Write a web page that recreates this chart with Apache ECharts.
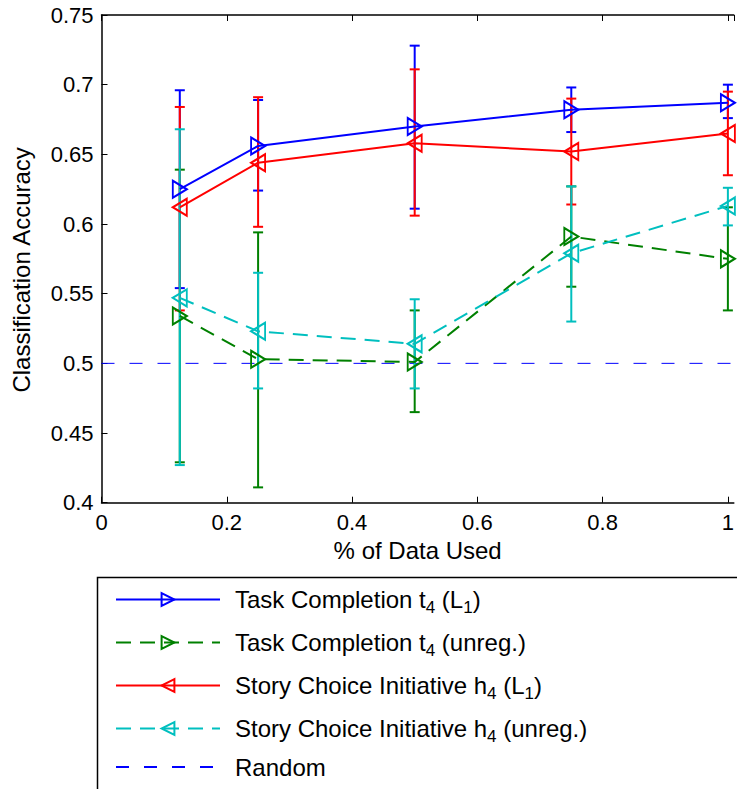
<!DOCTYPE html>
<html>
<head>
<meta charset="utf-8">
<script src="https://cdn.jsdelivr.net/npm/echarts@6/dist/echarts.min.js"></script>
<style>
html,body{margin:0;padding:0;background:#fff;}
#chart{width:737px;height:789px;}
</style>
</head>
<body>
<div id="chart"></div>
<script>
// ---- data ----
const xValues = [0.125, 0.25, 0.5, 0.75, 1];

const taskL1Mean = [0.625, 0.656, 0.670, 0.682, 0.687];
const taskL1Low  = [0.554, 0.624, 0.611, 0.666, 0.676];
const taskL1High = [0.696, 0.689, 0.728, 0.698, 0.700];

const taskUnregMean = [0.534, 0.503, 0.501, 0.591, 0.575];
const taskUnregLow  = [0.429, 0.411, 0.465, 0.555, 0.538];
const taskUnregHigh = [0.639, 0.594, 0.538, 0.627, 0.612];

const storyL1Mean = [0.612, 0.644, 0.658, 0.652, 0.665];
const storyL1Low  = [0.538, 0.598, 0.606, 0.614, 0.635];
const storyL1High = [0.684, 0.691, 0.711, 0.690, 0.695];

const storyUnregMean = [0.547, 0.523, 0.514, 0.579, 0.613];
const storyUnregLow  = [0.427, 0.482, 0.482, 0.530, 0.599];
const storyUnregHigh = [0.668, 0.565, 0.546, 0.627, 0.626];

const randomX = [0, 1.05];
const randomY = [0.5, 0.5];

const xTicks = [0, 0.2, 0.4, 0.6, 0.8, 1];
const yTicks = [0.4, 0.45, 0.5, 0.55, 0.6, 0.65, 0.7, 0.75];

const seriesNames = [
  'Task Completion t4 (L1)',
  'Task Completion t4 (unreg.)',
  'Story Choice Initiative h4 (L1)',
  'Story Choice Initiative h4 (unreg.)',
  'Random'
];
const legendRich = {
  'Task Completion t4 (L1)': '{f|Task Completion t}{s|4}{a| (L}{s|1}{a|)}',
  'Task Completion t4 (unreg.)': '{f|Task Completion t}{s|4}{a| (unreg.)}',
  'Story Choice Initiative h4 (L1)': '{f|Story Choice Initiative h}{s|4}{a| (L}{s|1}{a|)}',
  'Story Choice Initiative h4 (unreg.)': '{f|Story Choice Initiative h}{s|4}{a| (unreg.)}',
  'Random': '{f|Random}'
};

// ---- styling ----
const FONT = 'Liberation Sans, Arial, Helvetica, sans-serif';
const RIGHT_TRI = 'path://M0,0L10,6L0,12Z';
const LEFT_TRI = 'path://M10,0L0,6L10,12Z';
// visible x range: the plot box runs past the right edge of the window
const X_MAX = 1.0095;

function zip(xs, ys) { return xs.map((x, i) => [x, ys[i]]); }
function zip3(xs, a, b) { return xs.map((x, i) => [x, a[i], b[i]]); }

function errSeries(name, color, lows, highs) {
  return {
    type: 'custom',
    name: name + ' err',
    data: zip3(xValues, lows, highs),
    encode: { x: 0, y: [1, 2] },
    silent: true,
    clip: false,
    renderItem: function (params, api) {
      const x = api.value(0);
      const lo = api.coord([x, api.value(1)]);
      const hi = api.coord([x, api.value(2)]);
      const hw = 5;
      const st = { stroke: color, lineWidth: 2, fill: null };
      return {
        type: 'group',
        children: [
          { type: 'line', shape: { x1: lo[0], y1: lo[1], x2: hi[0], y2: hi[1] }, style: st },
          { type: 'line', shape: { x1: lo[0] - hw, y1: lo[1], x2: lo[0] + hw, y2: lo[1] }, style: st },
          { type: 'line', shape: { x1: hi[0] - hw, y1: hi[1], x2: hi[0] + hw, y2: hi[1] }, style: st }
        ]
      };
    },
    z: 2
  };
}

function lineSeries(name, color, means, symbol, dashed) {
  return {
    type: 'line',
    name: name,
    data: zip(xValues, means),
    symbol: symbol,
    symbolSize: [14, 17],
    showSymbol: true,
    clip: false,
    itemStyle: { color: 'rgba(255,255,255,0)', borderColor: color, borderWidth: 2 },
    lineStyle: { color: color, width: 2, type: dashed ? [15, 9] : 'solid' },
    emphasis: { disabled: true },
    animation: false,
    z: 2
  };
}

const chart = echarts.init(document.getElementById('chart'), null, { renderer: 'svg' });

const axisCommon = {
  axisLine: { show: true, lineStyle: { color: '#000', width: 1.5 } },
  axisTick: { show: true, inside: true, length: 6, lineStyle: { color: '#000', width: 1 } },
  splitLine: { show: false }
};

const option = {
  backgroundColor: '#fff',
  animation: false,
  grid: { left: 101.5, top: 15, right: 0, bottom: 286.3, containLabel: false },
  xAxis: [
    Object.assign({}, axisCommon, {
      type: 'value',
      min: 0, max: X_MAX, interval: 0.2,
      position: 'bottom',
      name: '% of Data Used',
      nameLocation: 'middle',
      nameGap: 34,
      nameTextStyle: { fontFamily: FONT, fontSize: 24, color: '#000' },
      axisLabel: {
        margin: 9, fontFamily: FONT, fontSize: 22, color: '#000',
        showMaxLabel: false,
        formatter: function (v) { const r = Math.round(v * 100) / 100; return xTicks.indexOf(r) >= 0 && Math.abs(v - r) < 1e-6 ? String(r) : ''; }
      }
    }),
    Object.assign({}, axisCommon, {
      type: 'value',
      min: 0, max: X_MAX, interval: 0.2,
      position: 'top',
      axisLabel: { show: false }
    })
  ],
  yAxis: [
    Object.assign({}, axisCommon, {
      type: 'value',
      min: 0.4, max: 0.75, interval: 0.05,
      name: 'Classification Accuracy',
      nameLocation: 'middle',
      nameGap: 68,
      nameTextStyle: { fontFamily: FONT, fontSize: 24, color: '#000', padding: [0, 22, 0, 0] },
      axisLabel: {
        margin: 8, fontFamily: FONT, fontSize: 22, color: '#000',
        formatter: function (v) { return String(Math.round(v * 100) / 100); }
      }
    })
  ],
  legend: {
    orient: 'vertical',
    left: 115,
    top: 583,
    padding: 0,
    itemWidth: 104,
    itemHeight: 16,
    itemGap: 10,
    selectedMode: false,
    data: [
      { name: seriesNames[0] },
      { name: seriesNames[1] },
      { name: seriesNames[2] },
      { name: seriesNames[3] },
      { name: seriesNames[4], itemStyle: { opacity: 0 } }
    ],
    formatter: function (name) { return legendRich[name] || name; },
    textStyle: {
      fontFamily: FONT, fontSize: 24, color: '#000',
      rich: {
        f: { fontFamily: FONT, fontSize: 24, color: '#000', lineHeight: 26, padding: [0, 0, 0, 10] },
        a: { fontFamily: FONT, fontSize: 24, color: '#000', lineHeight: 26 },
        s: { fontFamily: FONT, fontSize: 17, color: '#000', lineHeight: 26, padding: [16, 0, 0, 0] }
      }
    }
  },
  graphic: [
    {
      type: 'rect',
      left: 95, top: 575,
      shape: { x: 0, y: 0, width: 800, height: 300 },
      style: { fill: 'none', stroke: '#000', lineWidth: 1.5 },
      silent: true,
      z: 1
    }
  ],
  series: [
    {
      type: 'line',
      name: 'Random',
      data: zip(randomX, randomY),
      symbol: 'none',
      lineStyle: { color: '#0000ff', width: 1, type: [13, 15] },
      itemStyle: { color: '#0000ff' },
      emphasis: { disabled: true },
      z: 1
    },
    errSeries(seriesNames[0], '#0000ff', taskL1Low, taskL1High),
    lineSeries(seriesNames[0], '#0000ff', taskL1Mean, RIGHT_TRI, false),
    errSeries(seriesNames[1], '#008000', taskUnregLow, taskUnregHigh),
    lineSeries(seriesNames[1], '#008000', taskUnregMean, RIGHT_TRI, true),
    errSeries(seriesNames[2], '#ff0000', storyL1Low, storyL1High),
    lineSeries(seriesNames[2], '#ff0000', storyL1Mean, LEFT_TRI, false),
    errSeries(seriesNames[3], '#00bfbf', storyUnregLow, storyUnregHigh),
    lineSeries(seriesNames[3], '#00bfbf', storyUnregMean, LEFT_TRI, true)
  ]
};
chart.setOption(option);
</script>
</body>
</html>
